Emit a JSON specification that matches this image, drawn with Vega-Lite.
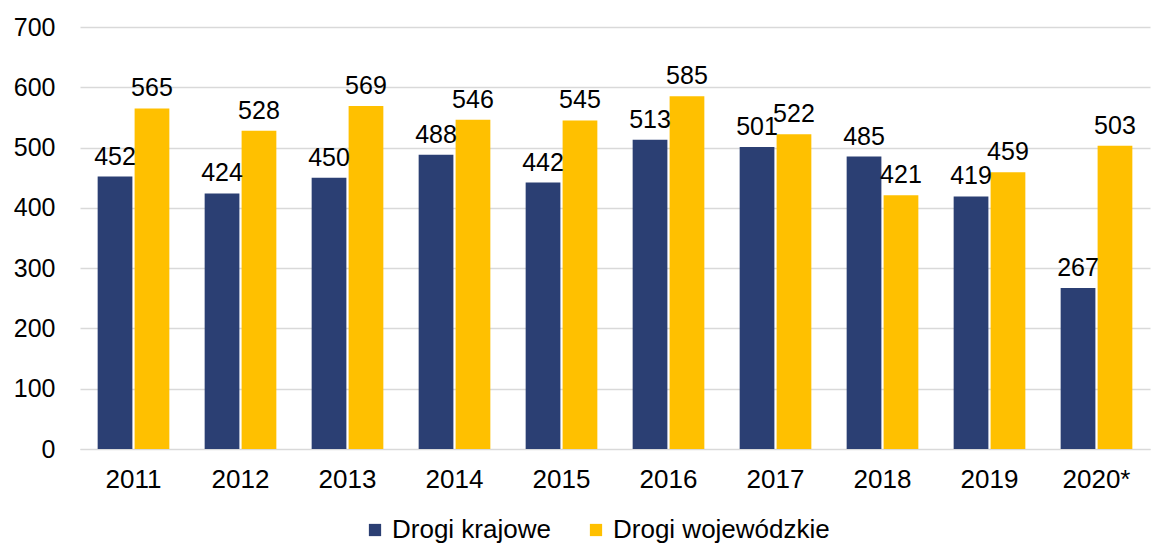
{
  "$schema": "https://vega.github.io/schema/vega-lite/v6.json",
  "autosize": {"type": "none"},
  "width": 1070,
  "height": 422,
  "padding": {"left": 80, "top": 27, "right": 9, "bottom": 97},
  "background": "white",
  "config": {
    "font": "Liberation Sans",
    "view": {"stroke": null}
  },
  "data": {
    "values": [
      {"rok": "2011", "seria": "Drogi krajowe", "v": 452},
      {"rok": "2011", "seria": "Drogi wojewódzkie", "v": 565},
      {"rok": "2012", "seria": "Drogi krajowe", "v": 424},
      {"rok": "2012", "seria": "Drogi wojewódzkie", "v": 528},
      {"rok": "2013", "seria": "Drogi krajowe", "v": 450},
      {"rok": "2013", "seria": "Drogi wojewódzkie", "v": 569},
      {"rok": "2014", "seria": "Drogi krajowe", "v": 488},
      {"rok": "2014", "seria": "Drogi wojewódzkie", "v": 546},
      {"rok": "2015", "seria": "Drogi krajowe", "v": 442},
      {"rok": "2015", "seria": "Drogi wojewódzkie", "v": 545},
      {"rok": "2016", "seria": "Drogi krajowe", "v": 513},
      {"rok": "2016", "seria": "Drogi wojewódzkie", "v": 585},
      {"rok": "2017", "seria": "Drogi krajowe", "v": 501},
      {"rok": "2017", "seria": "Drogi wojewódzkie", "v": 522},
      {"rok": "2018", "seria": "Drogi krajowe", "v": 485},
      {"rok": "2018", "seria": "Drogi wojewódzkie", "v": 421},
      {"rok": "2019", "seria": "Drogi krajowe", "v": 419},
      {"rok": "2019", "seria": "Drogi wojewódzkie", "v": 459},
      {"rok": "2020*", "seria": "Drogi krajowe", "v": 267},
      {"rok": "2020*", "seria": "Drogi wojewódzkie", "v": 503}
    ]
  },
  "encoding": {
    "x": {
      "field": "rok", "type": "nominal", "sort": null,
      "scale": {"paddingInner": 0.33, "paddingOuter": 0.165},
      "axis": {
        "title": null, "labelAngle": 0, "labelFontSize": 26, "labelColor": "#000000",
        "labelPadding": 17, "ticks": false, "domainColor": "#d9d9d9", "domainWidth": 1
      }
    },
    "xOffset": {"field": "seria", "type": "nominal", "scale": {"paddingInner": 0.06}},
    "y": {
      "field": "v", "type": "quantitative",
      "scale": {"domain": [0, 700], "nice": false},
      "axis": {
        "title": null, "values": [0, 100, 200, 300, 400, 500, 600, 700],
        "labelFontSize": 25, "labelColor": "#000000", "labelPadding": 25,
        "ticks": false, "domain": false, "gridColor": "#d9d9d9", "gridWidth": 1.3
      }
    }
  },
  "layer": [
    {
      "mark": {"type": "bar"},
      "encoding": {
        "color": {
          "field": "seria", "type": "nominal",
          "scale": {"domain": ["Drogi krajowe", "Drogi wojewódzkie"], "range": ["#2B3F73", "#FFC000"]},
          "legend": {
            "title": null, "orient": "none", "direction": "horizontal",
            "legendX": 282, "legendY": 490,
            "labelFontSize": 26, "labelColor": "#000000", "labelLimit": 0,
            "symbolType": "square", "symbolSize": 150, "columnPadding": 32, "labelOffset": 4
          }
        }
      }
    },
    {
      "mark": {"type": "text", "baseline": "bottom", "dy": -7, "fontSize": 25, "color": "#000000"},
      "encoding": {
        "text": {"field": "v", "type": "quantitative"}
      }
    }
  ]
}
